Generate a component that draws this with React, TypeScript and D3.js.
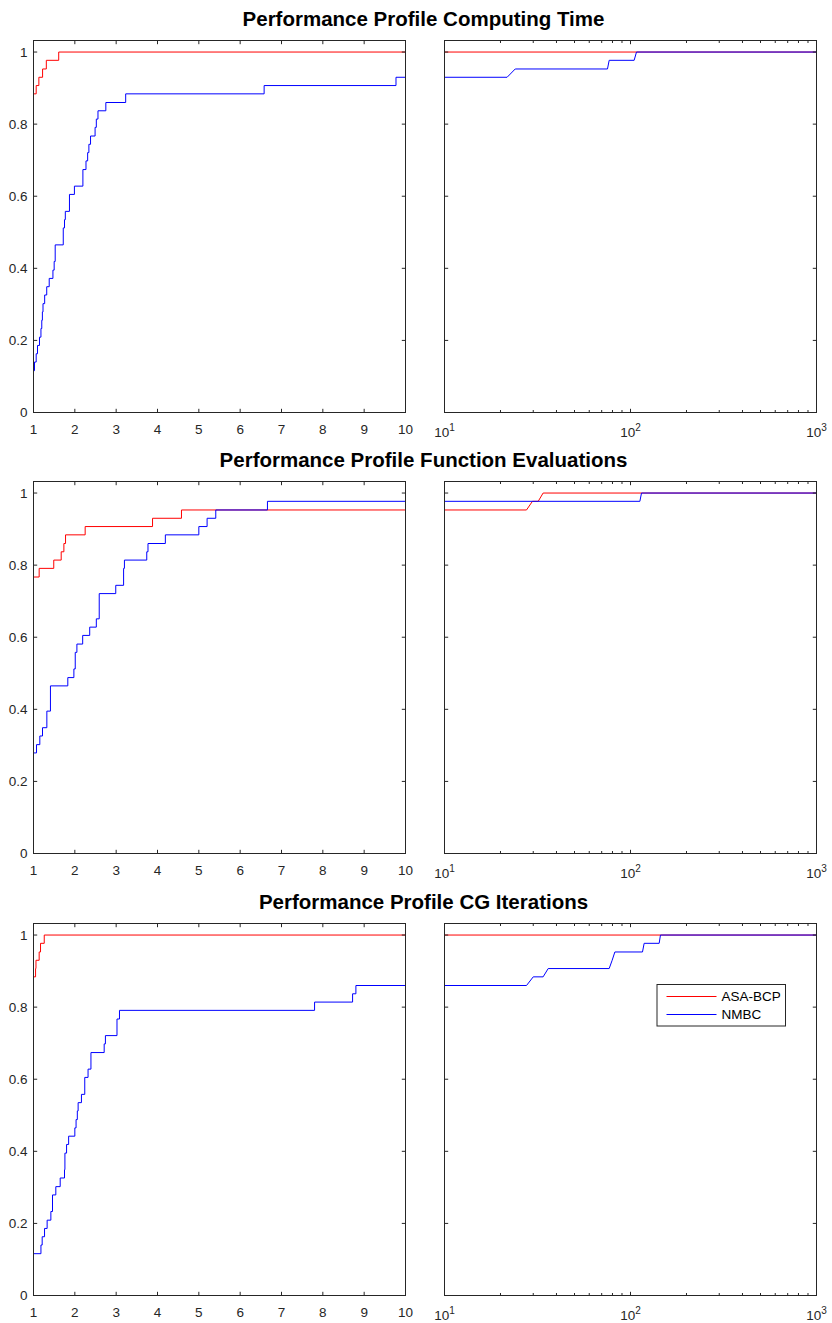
import React from "react";
import { scaleLinear, scaleLog, line, curveStepAfter, curveLinear, format } from "d3";

// row titles
const titles = [
  "Performance Profile Computing Time",
  "Performance Profile Function Evaluations",
  "Performance Profile CG Iterations",
];

const seriesNames = ["ASA-BCP", "NMBC"];
const seriesColors = ["#ff0000", "#0000ff"];

// --- computing time, tau in [1, 10]
const timeAsaTau = [1, 1.065, 1.13, 1.22, 1.31, 1.61];
const timeAsaRho = [0.884, 0.907, 0.93, 0.953, 0.977, 1];
const timeNmbcTau = [
  1, 1.024, 1.065, 1.097, 1.145, 1.18, 1.2, 1.215, 1.23, 1.27, 1.32, 1.38, 1.47, 1.5, 1.525, 1.72,
  1.75, 1.77, 1.87, 1.99, 2.195, 2.27, 2.31, 2.34, 2.38, 2.49, 2.52, 2.56, 2.75, 3.23, 6.58, 9.77,
];
const timeNmbcRho = [
  0.116, 0.14, 0.163, 0.186, 0.209, 0.233, 0.256, 0.279, 0.302, 0.326, 0.349, 0.372, 0.395, 0.419,
  0.465, 0.512, 0.535, 0.558, 0.605, 0.628, 0.674, 0.698, 0.721, 0.744, 0.767, 0.791, 0.814, 0.837,
  0.86, 0.884, 0.907, 0.93,
];
// computing time, tau in [10, 1000]
const timeAsaLogTau = [10, 1000];
const timeAsaLogRho = [1, 1];
const timeNmbcLogTau = [10, 21.7, 24, 75.2, 76.8, 104.6, 107.7, 1000];
const timeNmbcLogRho = [0.93, 0.93, 0.953, 0.953, 0.977, 0.977, 1, 1];

// --- function evaluations
const fevAsaTau = [1, 1.137, 1.49, 1.67, 1.735, 1.775, 2.25, 3.88, 4.58];
const fevAsaRho = [0.767, 0.791, 0.814, 0.837, 0.86, 0.884, 0.907, 0.93, 0.953];
const fevNmbcTau = [
  1, 1.073, 1.153, 1.218, 1.323, 1.41, 1.83, 1.977, 2.01, 2.05, 2.19, 2.36, 2.52, 2.59, 2.99, 3.18,
  3.2, 3.74, 3.77, 4.19, 5.0, 5.2, 5.41, 6.66,
];
const fevNmbcRho = [
  0.279, 0.302, 0.326, 0.349, 0.395, 0.465, 0.488, 0.512, 0.558, 0.581, 0.605, 0.628, 0.651, 0.721,
  0.744, 0.791, 0.814, 0.837, 0.86, 0.884, 0.907, 0.93, 0.953, 0.977,
];
const fevAsaLogTau = [10, 27.6, 29.7, 31.9, 33.9, 1000];
const fevAsaLogRho = [0.953, 0.953, 0.977, 0.977, 1, 1];
const fevNmbcLogTau = [10, 112.3, 114.6, 1000];
const fevNmbcLogRho = [0.977, 0.977, 1, 1];

// --- CG iterations
const cgAsaTau = [1, 1.05, 1.06, 1.137, 1.17, 1.26];
const cgAsaRho = [0.884, 0.907, 0.93, 0.953, 0.977, 1];
const cgNmbcTau = [
  1, 1.18, 1.21, 1.267, 1.33, 1.42, 1.46, 1.54, 1.646, 1.75, 1.76, 1.8, 1.85, 2.0, 2.03, 2.06, 2.08,
  2.16, 2.24, 2.32, 2.39, 2.71, 2.74, 3.02, 3.08, 7.8, 8.72, 8.8,
];
const cgNmbcRho = [
  0.116, 0.14, 0.163, 0.186, 0.209, 0.233, 0.279, 0.302, 0.326, 0.349, 0.395, 0.419, 0.442, 0.465,
  0.488, 0.512, 0.535, 0.558, 0.605, 0.628, 0.674, 0.698, 0.721, 0.767, 0.791, 0.814, 0.837, 0.86,
];
const cgAsaLogTau = [10, 1000];
const cgAsaLogRho = [1, 1];
const cgNmbcLogTau = [10, 27.6, 30, 33.9, 36.1, 76.8, 79.7, 82.4, 116, 118.4, 142.6, 144.9, 1000];
const cgNmbcLogRho = [0.86, 0.86, 0.884, 0.884, 0.907, 0.907, 0.93, 0.953, 0.953, 0.977, 0.977, 1, 1];

const rows = [
  {
    lin: [[timeAsaTau, timeAsaRho], [timeNmbcTau, timeNmbcRho]],
    log: [[timeAsaLogTau, timeAsaLogRho], [timeNmbcLogTau, timeNmbcLogRho]],
  },
  {
    lin: [[fevAsaTau, fevAsaRho], [fevNmbcTau, fevNmbcRho]],
    log: [[fevAsaLogTau, fevAsaLogRho], [fevNmbcLogTau, fevNmbcLogRho]],
  },
  {
    lin: [[cgAsaTau, cgAsaRho], [cgNmbcTau, cgNmbcRho]],
    log: [[cgAsaLogTau, cgAsaLogRho], [cgNmbcLogTau, cgNmbcLogRho]],
  },
];

const W = 832;
const H = 1323;
const FONT = "'Liberation Sans', Arial, Helvetica, sans-serif";
const AXIS = "#262626";
const leftX = 33.5;
const rightX = 444.5;
const panelW = 372;
const panelH = 372;
const rowTops = [40.5, 481.5, 923.5];
const TICK = 3.7;
const LABEL = 13.5;

const yScale = scaleLinear().domain([0, 1.032]).range([panelH, 0]);
const yTicks = [0, 0.2, 0.4, 0.6, 0.8, 1];
const fmt = format("~g");

function Panel({ x0, y0, isLog, series, legend }) {
  const xScale = isLog
    ? scaleLog().domain([10, 1000]).range([0, panelW])
    : scaleLinear().domain([1, 10]).range([0, panelW]);
  const xMax = isLog ? 1000 : 10;
  const xTicks = isLog ? xScale.ticks() : [1, 2, 3, 4, 5, 6, 7, 8, 9, 10];

  const gen = line()
    .x((d) => xScale(d[0]))
    .y((d) => yScale(d[1]))
    .curve(isLog ? curveLinear : curveStepAfter);

  return (
    <g transform={`translate(${x0},${y0})`}>
      {series.map(([tau, rho], i) => {
        const pts = tau.map((t, j) => [t, rho[j]]);
        if (pts[pts.length - 1][0] < xMax) pts.push([xMax, rho[rho.length - 1]]);
        return (
          <path key={i} d={gen(pts)} fill="none" stroke={seriesColors[i]} strokeWidth={1} />
        );
      })}
      {/* box */}
      <rect x={0} y={0} width={panelW} height={panelH} fill="none" stroke={AXIS} strokeWidth={1} />
      {/* x ticks */}
      {xTicks.map((t) => {
        const major = !isLog || Math.abs(Math.log10(t) - Math.round(Math.log10(t))) < 1e-9;
        const len = major ? TICK : 2.5;
        const x = xScale(t);
        return (
          <g key={"x" + t}>
            <line x1={x} x2={x} y1={panelH} y2={panelH - len} stroke={AXIS} />
            <line x1={x} x2={x} y1={0} y2={len} stroke={AXIS} />
          </g>
        );
      })}
      {/* y ticks */}
      {yTicks.map((t) => (
        <g key={"y" + t}>
          <line x1={0} x2={TICK} y1={yScale(t)} y2={yScale(t)} stroke={AXIS} />
          <line x1={panelW} x2={panelW - TICK} y1={yScale(t)} y2={yScale(t)} stroke={AXIS} />
          {!isLog && (
            <text
              x={-6}
              y={yScale(t)}
              dy="0.35em"
              textAnchor="end"
              fontSize={LABEL}
              fontFamily={FONT}
              fill={AXIS}
            >
              {fmt(t)}
            </text>
          )}
        </g>
      ))}
      {/* x labels */}
      {!isLog &&
        xTicks.map((t) => (
          <text
            key={"xl" + t}
            x={xScale(t)}
            y={panelH + 21.5}
            textAnchor="middle"
            fontSize={LABEL}
            fontFamily={FONT}
            fill={AXIS}
          >
            {t}
          </text>
        ))}
      {isLog &&
        [10, 100, 1000].map((t) => (
          <text
            key={"xl" + t}
            x={xScale(t)}
            y={panelH + 24}
            textAnchor="middle"
            fontSize={LABEL}
            fontFamily={FONT}
            fill={AXIS}
          >
            <tspan>10</tspan>
            <tspan dy={-6} fontSize={10}>
              {Math.round(Math.log10(t))}
            </tspan>
          </text>
        ))}
      {legend && (
        <g transform={`translate(${panelW - 159.5},61)`}>
          <rect x={0} y={0} width={128.5} height={41.5} fill="#fff" stroke={AXIS} strokeWidth={1} />
          {seriesNames.map((name, i) => (
            <g key={name} transform={`translate(0,${12 + i * 18})`}>
              <line x1={9.5} x2={59.5} y1={0} y2={0} stroke={seriesColors[i]} strokeWidth={1} />
              <text x={64.5} y={0} dy="0.35em" fontSize={LABEL} fontFamily={FONT} fill="#000">
                {name}
              </text>
            </g>
          ))}
        </g>
      )}
    </g>
  );
}

export default function App() {
  return (
    <svg
      width={W}
      height={H}
      style={{ position: "absolute", left: 0, top: 0, background: "#fff" }}
    >
      <rect width={W} height={H} fill="#fff" />
      {rows.map((row, r) => (
        <g key={r}>
          <text
            x={(leftX + rightX + panelW) / 2 - 1.5}
            y={rowTops[r] - 14.5}
            textAnchor="middle"
            fontSize={20.5}
            fontWeight="bold"
            fontFamily={FONT}
            fill="#000"
          >
            {titles[r]}
          </text>
          <Panel x0={leftX} y0={rowTops[r]} isLog={false} series={row.lin} legend={false} />
          <Panel x0={rightX} y0={rowTops[r]} isLog={true} series={row.log} legend={r === 2} />
        </g>
      ))}
    </svg>
  );
}
